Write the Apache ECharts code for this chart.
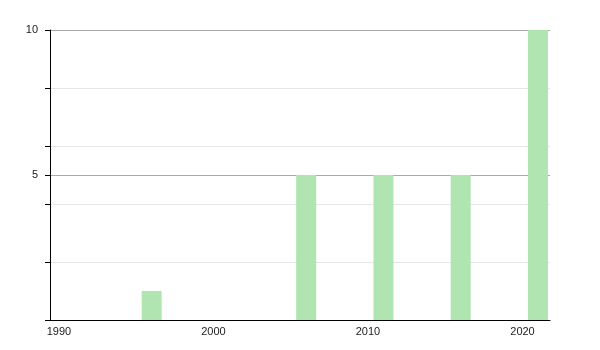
<!DOCTYPE html>
<html><head><meta charset="utf-8">
<script src="https://cdn.jsdelivr.net/npm/echarts@6/dist/echarts.min.js"></script>
<style>html,body{margin:0;padding:0;background:#fff}#c{width:600px;height:350px}</style>
</head><body><div id="c"></div>
<script>
var years = [1996, 2006, 2011, 2016, 2021];
var values = [1, 5, 5, 5, 10];
var xTickLabels = [1990, 2000, 2010, 2020];
var yTickLabels = [5, 10];

var chart = echarts.init(document.getElementById('c'), null, {renderer: 'canvas'});
var font = {fontFamily: 'Liberation Sans, Arial, sans-serif', fontSize: 11, color: '#222'};
chart.setOption({
  animation: false,
  grid: {left: 50, right: 50, top: 30, bottom: 30, containLabel: false},
  xAxis: {
    type: 'value', min: 1989.42, max: 2021.78,
    axisLine: {show: true, lineStyle: {color: '#000', width: 1}},
    axisTick: {show: false},
    splitLine: {show: false},
    axisLabel: Object.assign({customValues: xTickLabels, margin: 6, formatter: function(v){return String(v);}}, font)
  },
  yAxis: [{
    type: 'value', min: 0, max: 10, interval: 2,
    axisLine: {show: true, lineStyle: {color: '#000', width: 1}},
    axisTick: {show: true, length: 5, lineStyle: {color: '#000'}},
    axisLabel: {show: false},
    splitLine: {show: true, lineStyle: {color: '#e6e6e6', width: 1}}
  }, {
    type: 'value', min: 0, max: 10, interval: 5, position: 'left', offset: 0,
    axisLine: {show: false},
    axisTick: {show: true, length: 5, lineStyle: {color: '#000'}},
    axisLabel: Object.assign({margin: 12, formatter: function(v){return v === 0 ? '' : String(v);}}, font),
    splitLine: {show: true, lineStyle: {color: '#aaaaaa', width: 1}}
  }],
  series: [{
    type: 'bar', yAxisIndex: 0, barWidth: 20,
    itemStyle: {color: '#b0e4b0'},
    data: years.map(function(y, i){ return [y, values[i]]; })
  }]
});
</script></body></html>
